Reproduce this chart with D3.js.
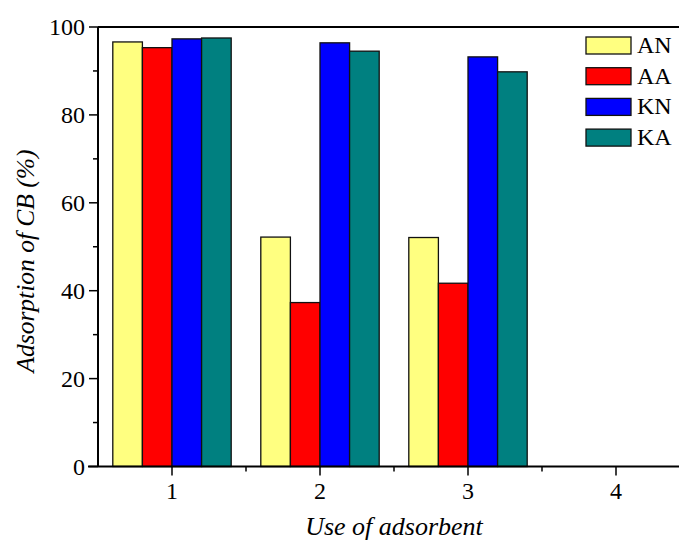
<!DOCTYPE html>
<html>
<head>
<meta charset="utf-8">
<script src="https://cdn.jsdelivr.net/npm/d3@7"></script>
<style>
  body { margin: 0; background: #fff; }
  text { font-family: "Liberation Serif", "Times New Roman", serif; fill: #000; }
</style>
</head>
<body>
<div id="graph"></div>
<script>
var uses = [1, 2, 3]
var series = ['AN', 'AA', 'KN', 'KA']
var colors = ['#ffff80', '#ff0000', '#0000ff', '#008080']
var AN = [96.6, 52.2, 52.1]
var AA = [95.3, 37.3, 41.7]
var KN = [97.3, 96.4, 93.2]
var KA = [97.5, 94.5, 89.8]
var yTicks = [0, 20, 40, 60, 80, 100]
var xTicks = [1, 2, 3, 4]

var values = [AN, AA, KN, KA]
var width = 679, height = 546
var m = {left: 98, top: 27, bottom: 466.5}

var svg = d3.select('#graph').append('svg')
  .attr('width', width).attr('height', height)

var x = d3.scaleLinear().domain([0.5, 4.5]).range([m.left, m.left + 4*148])
var y = d3.scaleLinear().domain([0, 100]).range([m.bottom, m.top])

var bw = 0.2
var bars = []
uses.forEach((u, i) => {
  series.forEach((s, j) => {
    bars.push({u, j, v: values[j][i]})
  })
})

svg.selectAll('rect.bar').data(bars).enter().append('rect')
  .attr('class', 'bar')
  .attr('x', d => x(d.u - 0.4 + d.j*bw))
  .attr('width', d => x(d.u - 0.4 + (d.j + 1)*bw) - x(d.u - 0.4 + d.j*bw))
  .attr('y', d => y(d.v))
  .attr('height', d => y(0) - y(d.v))
  .attr('fill', d => colors[d.j])
  .attr('stroke', '#111')
  .attr('stroke-width', 1.3)

// top frame line
svg.append('line')
  .attr('x1', m.left).attr('x2', width)
  .attr('y1', m.top).attr('y2', m.top)
  .attr('stroke', '#000').attr('stroke-width', 2)

// y axis
var yAxis = svg.append('g').attr('transform', `translate(${m.left},0)`)
yAxis.append('line').attr('y1', m.top).attr('y2', m.bottom)
  .attr('stroke', '#000').attr('stroke-width', 2)
yAxis.selectAll('line.minor').data(d3.range(10, 100, 20)).enter().append('line')
  .attr('x1', -5).attr('x2', 0)
  .attr('y1', d => y(d)).attr('y2', d => y(d))
  .attr('stroke', '#000').attr('stroke-width', 1.5)
yAxis.selectAll('line.major').data(yTicks).enter().append('line')
  .attr('x1', -9).attr('x2', 0)
  .attr('y1', d => y(d)).attr('y2', d => y(d))
  .attr('stroke', '#000').attr('stroke-width', 1.5)
yAxis.selectAll('text').data(yTicks).enter().append('text')
  .attr('x', -13).attr('y', d => y(d) + 8)
  .attr('text-anchor', 'end')
  .style('font-size', '24px')
  .text(d => d)

// x axis
var xAxis = svg.append('g').attr('transform', `translate(0,${m.bottom})`)
xAxis.append('line').attr('x1', m.left - 10).attr('x2', width)
  .attr('stroke', '#000').attr('stroke-width', 2)
xAxis.selectAll('line.minor').data([1.5, 2.5, 3.5]).enter().append('line')
  .attr('x1', d => x(d)).attr('x2', d => x(d))
  .attr('y1', 0).attr('y2', 5)
  .attr('stroke', '#000').attr('stroke-width', 1.5)
xAxis.selectAll('line.major').data(xTicks).enter().append('line')
  .attr('x1', d => x(d)).attr('x2', d => x(d))
  .attr('y1', 0).attr('y2', 9)
  .attr('stroke', '#000').attr('stroke-width', 1.5)
xAxis.selectAll('text').data(xTicks).enter().append('text')
  .attr('x', d => x(d)).attr('y', 32.5)
  .attr('text-anchor', 'middle')
  .style('font-size', '24px')
  .text(d => d)

// titles
svg.append('text')
  .attr('transform', 'translate(34,261) rotate(-90)')
  .attr('text-anchor', 'middle')
  .style('font-size', '25.5px').style('font-style', 'italic')
  .text('Adsorption of CB (%)')

svg.append('text')
  .attr('x', 394).attr('y', 535)
  .attr('text-anchor', 'middle')
  .style('font-size', '26px').style('font-style', 'italic')
  .text('Use of adsorbent')

// legend
var leg = svg.selectAll('g.leg').data(series).enter().append('g')
  .attr('transform', (d, i) => `translate(586,${37 + i*30.7})`)
leg.append('rect')
  .attr('width', 45).attr('height', 17)
  .attr('fill', (d, i) => colors[i])
  .attr('stroke', '#111').attr('stroke-width', 1.3)
leg.append('text')
  .attr('x', 51).attr('y', 16)
  .style('font-size', '24px')
  .text(d => d)
</script>
</body>
</html>
